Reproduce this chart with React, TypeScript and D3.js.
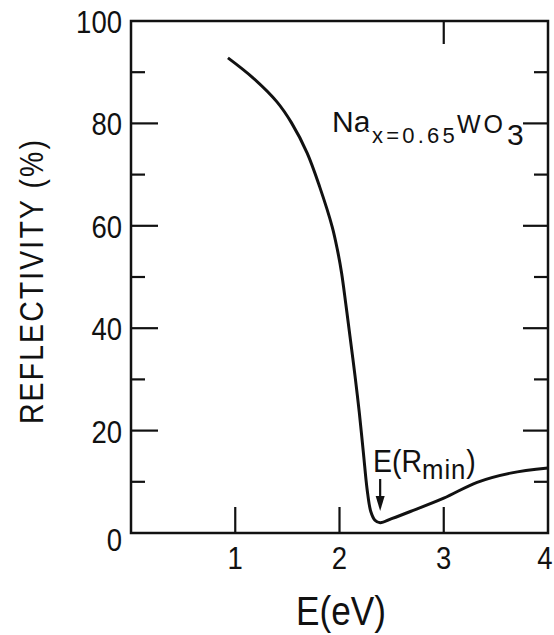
import React, { useEffect, useRef } from 'react';
import * as d3 from 'd3';

const energy = [0.93, 1.17, 1.4, 1.54, 1.69, 1.81, 1.93, 1.98, 2.02, 2.06, 2.1, 2.15, 2.19, 2.23, 2.265, 2.3, 2.34, 2.39, 2.5, 2.68, 3.0, 3.32, 3.64, 4.0];
const reflectivity = [92.8, 88.9, 84.2, 80.1, 74.2, 67.6, 59.8, 55.3, 50.8, 44.8, 38.5, 30.5, 23.5, 15.5, 8.5, 4.2, 2.5, 2.0, 2.8, 4.2, 6.8, 9.9, 11.7, 12.7];

const yMajor = [20, 40, 60, 80];
const yMinor = [10, 30, 50, 70, 90];
const yLabels = [0, 20, 40, 60, 80, 100];
const xBottomTicks = [1, 2, 3];
const xTopTicks = [3];
const xLabels = [1, 2, 3, 4];
const eMin = 2.39;

const FONT = '"Liberation Sans", Arial, sans-serif';
const INK = '#111';

const App = () => {
  const svgRef = useRef<SVGSVGElement | null>(null);

  useEffect(() => {
    const svg = d3.select(svgRef.current);
    svg.selectAll('*').remove();

    const x = d3.scaleLinear().domain([0, 4]).range([131, 548]);
    const y = d3.scaleLinear().domain([0, 100]).range([533, 21]);

    const g = svg.append('g');

    // narrow lettering: squeeze glyphs horizontally
    const label = (tx, ty, str, size, anchor = 'start', sx = 0.86) =>
      g.append('text')
        .attr('transform', `translate(${tx},${ty}) scale(${sx},1)`)
        .attr('text-anchor', anchor)
        .attr('font-family', FONT).attr('font-size', size).attr('fill', INK)
        .text(str);

    // frame
    g.append('rect')
      .attr('x', x(0)).attr('y', y(100))
      .attr('width', x(4) - x(0)).attr('height', y(0) - y(100))
      .attr('fill', 'none').attr('stroke', INK).attr('stroke-width', 2.5);

    const tick = (x1, y1, x2, y2) =>
      g.append('line').attr('x1', x1).attr('y1', y1).attr('x2', x2).attr('y2', y2)
        .attr('stroke', INK).attr('stroke-width', 2.2);

    yMajor.forEach(v => { tick(x(0), y(v), x(0) + 27, y(v)); tick(x(4), y(v), x(4) - 25, y(v)); });
    yMinor.forEach(v => { tick(x(0), y(v), x(0) + 14, y(v)); tick(x(4), y(v), x(4) - 14, y(v)); });
    xBottomTicks.forEach(v => tick(x(v), y(0), x(v), y(0) - 26));
    xTopTicks.forEach(v => tick(x(v), y(100), x(v), y(100) + 23));

    // tick labels
    yLabels.forEach(d => label(122, y(d) + (d === 0 ? 18 : 12), String(d), 32, 'end'));
    xLabels.forEach(d => label(Math.min(x(d), 545), 569, String(d), 32, 'middle'));

    // axis titles
    label(341, 625, 'E(eV)', 40, 'middle', 0.88);
    g.append('text')
      .attr('transform', 'translate(43, 281) rotate(-90) scale(0.86,1)')
      .attr('text-anchor', 'middle')
      .attr('font-family', FONT).attr('font-size', 33).attr('letter-spacing', 2.5).attr('fill', INK)
      .text('REFLECTIVITY (%)');

    // curve
    const pts = energy.map((e, i) => [e, reflectivity[i]] as [number, number]);
    const line = d3.line<[number, number]>()
      .x(d => x(d[0])).y(d => y(d[1]))
      .curve(d3.curveCatmullRom.alpha(0.5));
    g.append('path').datum(pts)
      .attr('d', line).attr('fill', 'none')
      .attr('stroke', INK).attr('stroke-width', 3);

    // compound label Na_{x=0.65}WO_3
    const lab = g.append('text')
      .attr('font-family', FONT).attr('fill', INK)
      .attr('stroke', '#fff').attr('stroke-width', 6).attr('paint-order', 'stroke');
    lab.append('tspan').attr('x', 332).attr('y', 132).attr('font-size', 30).text('Na');
    lab.append('tspan').attr('x', 372).attr('y', 143).attr('font-size', 22).attr('letter-spacing', 3.2).text('x=0.65');
    lab.append('tspan').attr('x', 457).attr('y', 133).attr('font-size', 25).attr('letter-spacing', 3).text('WO');
    lab.append('tspan').attr('x', 507).attr('y', 145).attr('font-size', 30).text('3');

    // E(Rmin) annotation
    const ann = g.append('text')
      .attr('transform', 'translate(373,472) scale(0.92,1)')
      .attr('font-family', FONT).attr('fill', INK).attr('font-size', 31);
    ann.append('tspan').text('E(R');
    ann.append('tspan').attr('font-size', 28).attr('dy', 7).attr('letter-spacing', 1).text('min');
    ann.append('tspan').attr('dy', -7).text(')');

    const ax = x(eMin);
    g.append('line').attr('x1', ax).attr('y1', 479).attr('x2', ax).attr('y2', 500)
      .attr('stroke', INK).attr('stroke-width', 2.2);
    g.append('path')
      .attr('d', `M${ax - 4.5},496 L${ax + 4.5},496 L${ax},511 Z`)
      .attr('fill', INK);
  }, []);

  return (
    <svg ref={svgRef} width={554} height={635}
      style={{ position: 'absolute', left: 0, top: 0, background: '#fff' }} />
  );
};

export default App;
